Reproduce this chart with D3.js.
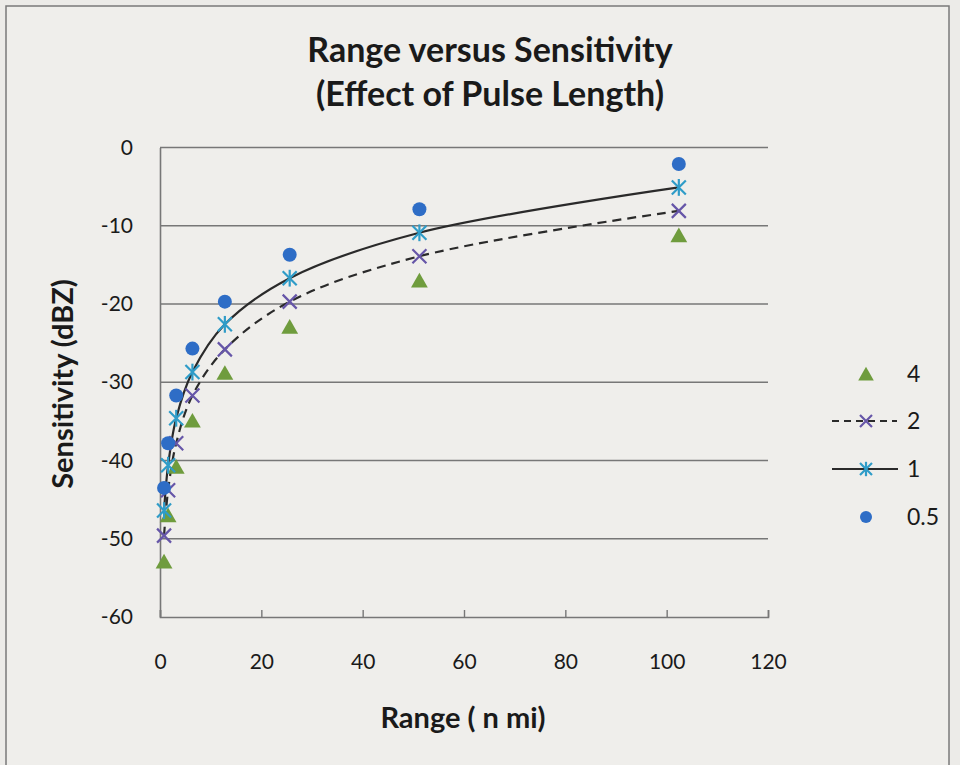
<!DOCTYPE html>
<html lang="en">
  <head>
    <meta charset="utf-8" />
    <style>
      body { margin: 0; background: #ecebe8; }
      text { font-family: Lato, "Open Sans", sans-serif; fill: #1a1a1a; }
    </style>
  </head>
  <body>
    <script type="text/javascript" src="https://d3js.org/d3.v7.min.js"></script>
    <script>
      // range in nautical miles, sensitivity in dBZ for each pulse length
      var ranges = [0.8, 1.6, 3.2, 6.4, 12.8, 25.6, 51.2, 102.4];
      var pulse4 = [-52.9, -47.0, -40.8, -34.9, -28.8, -22.9, -17.0, -11.2];
      var pulse2 = [-49.6, -43.8, -37.8, -31.7, -25.8, -19.7, -13.9, -8.1];
      var pulse1 = [-46.4, -40.6, -34.6, -28.7, -22.6, -16.7, -10.9, -5.1];
      var pulse05 = [-43.5, -37.8, -31.7, -25.7, -19.7, -13.7, -7.9, -2.1];
      var seriesNames = ["4", "2", "1", "0.5"];
      var xTicks = [0, 20, 40, 60, 80, 100, 120];
      var yTicks = [0, -10, -20, -30, -40, -50, -60];

      var width = 960,
        height = 765;

      var svg = d3
        .select("body")
        .append("svg")
        .attr("width", width)
        .attr("height", height);

      // chart frame
      svg
        .append("rect")
        .attr("x", 6)
        .attr("y", 6)
        .attr("width", 943)
        .attr("height", 800)
        .attr("fill", "#efeeeb")
        .attr("stroke", "#7a7a7a")
        .attr("stroke-width", 1.5);

      var x = d3.scaleLinear().domain([0, 120]).range([160, 768]);
      var y = d3.scaleLinear().domain([0, -60]).range([147.5, 617]);

      // gridlines
      svg
        .append("g")
        .selectAll("line")
        .data(yTicks.slice(0, 6))
        .join("line")
        .attr("x1", x(0))
        .attr("x2", x(120))
        .attr("y1", function (d) { return y(d); })
        .attr("y2", function (d) { return y(d); })
        .attr("stroke", "#777")
        .attr("stroke-width", 1.6);

      // plain hyphen labels like the original, not the unicode minus
      var fmt = function (d) { return String(d); };

      // x axis, ticks pointing inward
      var xAxis = svg
        .append("g")
        .attr("transform", "translate(0," + y(-60) + ")")
        .call(d3.axisBottom(x).tickValues(xTicks).tickFormat(fmt).tickSizeInner(-7).tickSizeOuter(-7).tickPadding(37));
      xAxis.select(".domain").attr("stroke", "#777").attr("stroke-width", 1.6);
      xAxis.selectAll(".tick line").attr("stroke", "#777").attr("stroke-width", 1.4);
      xAxis.selectAll("text").attr("font-size", 21).attr("font-family", "Lato").attr("fill", "#1a1a1a");

      var yAxis = svg
        .append("g")
        .attr("transform", "translate(" + x(0) + ",0)")
        .call(d3.axisLeft(y).tickValues(yTicks).tickFormat(fmt).tickSize(0).tickPadding(27));
      yAxis.select(".domain").attr("stroke", "#777").attr("stroke-width", 1.6);
      yAxis.selectAll("text").attr("font-size", 21).attr("font-family", "Lato").attr("fill", "#1a1a1a");

      // titles
      svg.append("text").attr("x", 490).attr("y", 62).attr("text-anchor", "middle")
        .attr("font-size", 34).attr("font-weight", "bold").text("Range versus Sensitivity");
      svg.append("text").attr("x", 490).attr("y", 106).attr("text-anchor", "middle")
        .attr("font-size", 34).attr("font-weight", "bold").text("(Effect of Pulse Length)");
      svg.append("text").attr("x", 463).attr("y", 728).attr("text-anchor", "middle")
        .attr("font-size", 29).attr("font-weight", "bold").text("Range ( n mi)");
      svg.append("text").attr("transform", "translate(73,384) rotate(-90)").attr("text-anchor", "middle")
        .attr("font-size", 29).attr("font-weight", "bold").text("Sensitivity (dBZ)");

      function pts(vals) {
        return ranges.map(function (r, i) { return { r: r, v: vals[i] }; });
      }

      var line = d3
        .line()
        .x(function (d) { return x(d.r); })
        .y(function (d) { return y(d.v); })
        .curve(d3.curveCatmullRom);

      svg.append("path").datum(pts(pulse2)).attr("d", line).attr("fill", "none")
        .attr("stroke", "#2a2a2a").attr("stroke-width", 2.2).attr("stroke-dasharray", "9,6");
      svg.append("path").datum(pts(pulse1)).attr("d", line).attr("fill", "none")
        .attr("stroke", "#2a2a2a").attr("stroke-width", 2.2);

      var green = "#6f9c3d", purple = "#6656a8", teal = "#2f9cc8", blue = "#2e6dc6";

      function triangle(g, s) {
        g.append("path").attr("d", "M0," + -s * 0.55 + "L" + s * 0.6 + "," + s * 0.5 + "L" + -s * 0.6 + "," + s * 0.5 + "Z")
          .attr("fill", green);
      }
      function cross(g, s, c) {
        g.append("path").attr("d", "M" + -s + "," + -s + "L" + s + "," + s + "M" + -s + "," + s + "L" + s + "," + -s)
          .attr("stroke", c).attr("stroke-width", 2.2).attr("fill", "none");
      }
      function star(g, s) {
        cross(g, s, teal);
        g.append("path").attr("d", "M0," + -s * 1.2 + "L0," + s * 1.2).attr("stroke", teal).attr("stroke-width", 2.2);
      }
      function dot(g, s) {
        g.append("circle").attr("r", s).attr("fill", blue);
      }

      function markers(vals, draw, size) {
        svg.append("g").selectAll("g").data(pts(vals)).join("g")
          .attr("transform", function (d) { return "translate(" + x(d.r) + "," + y(d.v) + ")"; })
          .each(function () { draw(d3.select(this), size); });
      }
      markers(pulse4, triangle, 14);
      markers(pulse2, function (g, s) { cross(g, s, purple); }, 7);
      markers(pulse1, star, 7);
      markers(pulse05, dot, 7);

      // legend
      var legendY = [374, 421, 469, 517];
      var leg = svg.append("g");
      seriesNames.forEach(function (name, i) {
        var g = leg.append("g").attr("transform", "translate(866," + legendY[i] + ")");
        if (i == 1) g.append("line").attr("x1", -34).attr("x2", 31).attr("stroke", "#2a2a2a").attr("stroke-width", 2).attr("stroke-dasharray", "7,5");
        if (i == 2) g.append("line").attr("x1", -34).attr("x2", 32).attr("stroke", "#2a2a2a").attr("stroke-width", 2);
        if (i == 0) triangle(g, 13);
        if (i == 1) cross(g, 6, purple);
        if (i == 2) star(g, 6);
        if (i == 3) dot(g, 6);
        leg.append("text").attr("x", 907).attr("y", legendY[i] + 8).attr("font-size", 23).text(name);
      });
    </script>
  </body>
</html>
